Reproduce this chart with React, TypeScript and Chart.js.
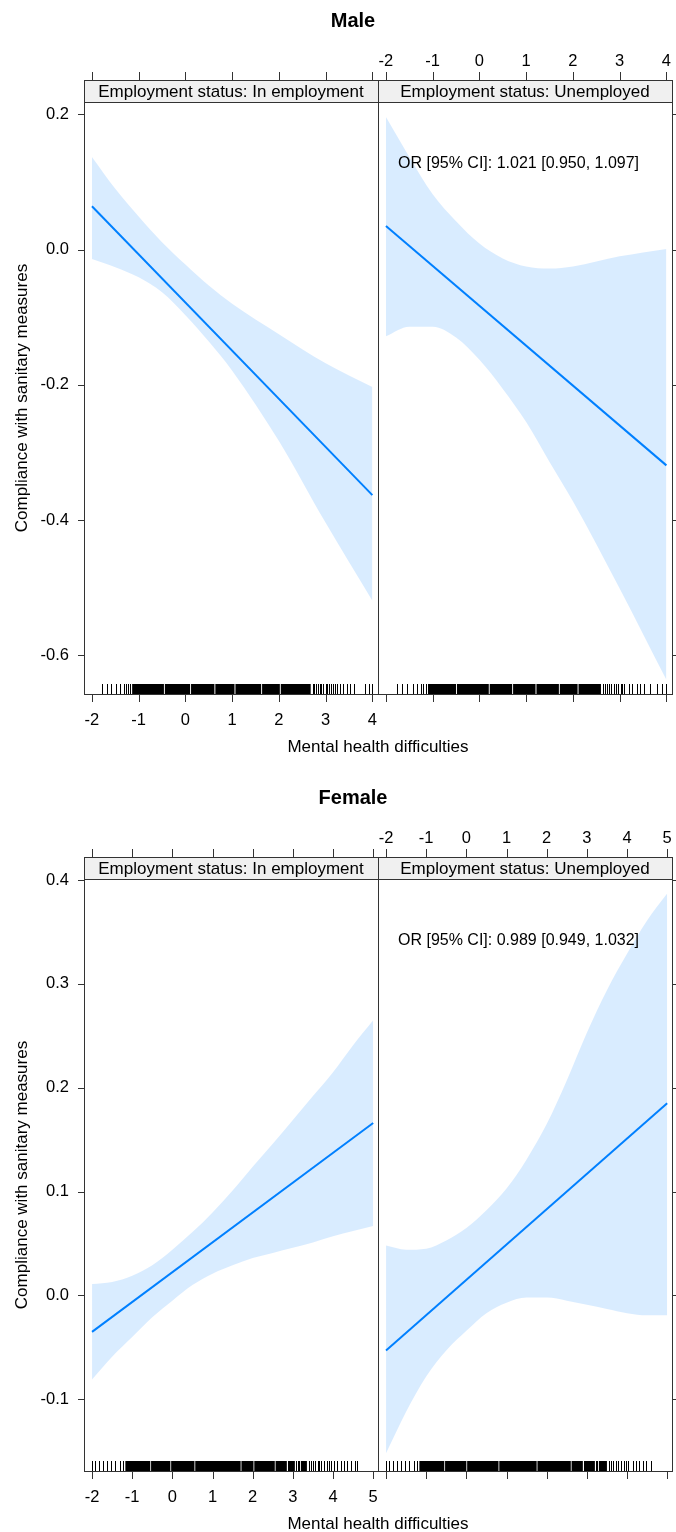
import React, { useEffect, useRef } from "react";
import { Chart, registerables } from "chart.js";

Chart.register(...registerables);

const FONT = '"Liberation Sans", Arial, Helvetica, sans-serif';

// ---------------- Data ----------------
const titles = ["Male", "Female"];
const stripLabels = ["Employment status: In employment", "Employment status: Unemployed"];
const xAxisTitle = "Mental health difficulties";
const yAxisTitle = "Compliance with sanitary measures";
const maleAnnotation = "OR [95% CI]: 1.021 [0.950, 1.097]";
const femaleAnnotation = "OR [95% CI]: 0.989 [0.949, 1.032]";

const maleXTicks = [-2, -1, 0, 1, 2, 3, 4];
const maleYTicks = [-0.6, -0.4, -0.2, 0.0, 0.2];
const maleYLabels = ["-0.6", "-0.4", "-0.2", "0.0", "0.2"];
const femaleXTicks = [-2, -1, 0, 1, 2, 3, 4, 5];
const femaleYTicks = [-0.1, 0.0, 0.1, 0.2, 0.3, 0.4];
const femaleYLabels = ["-0.1", "0.0", "0.1", "0.2", "0.3", "0.4"];

// Male, in employment
const maleEmpX = [-2, -1.5, -1, -0.5, 0, 0.5, 1, 2, 3, 4];
const maleEmpUpper = [0.137, 0.09, 0.049, 0.011, -0.022, -0.053, -0.08, -0.125, -0.168, -0.203];
const maleEmpLower = [-0.014, -0.026, -0.041, -0.063, -0.097, -0.136, -0.179, -0.283, -0.404, -0.519];
const maleFitX = [-2, 4];
const maleEmpFit = [0.064, -0.363];

// Male, unemployed
const maleUnempX = [-2, -1.5, -1, -0.5, 0, 0.5, 1, 1.5, 2, 3, 4];
const maleUnempUpper = [0.196, 0.137, 0.082, 0.042, 0.009, -0.013, -0.025, -0.028, -0.025, -0.01, 0.001];
const maleUnempLower = [-0.128, -0.114, -0.114, -0.13, -0.163, -0.206, -0.255, -0.314, -0.372, -0.501, -0.636];
const maleUnempFit = [0.035, -0.319];

// Female
const femaleX = [-2, -1.5, -1, -0.5, 0, 0.5, 1, 1.5, 2, 2.5, 3, 3.5, 4, 4.5, 5];
const femaleFitX = [-2, 5];
const femaleEmpUpper = [0.011, 0.013, 0.019, 0.029, 0.044, 0.061, 0.08, 0.101, 0.124, 0.146, 0.169, 0.192, 0.215, 0.241, 0.265];
const femaleEmpLower = [-0.081, -0.059, -0.04, -0.021, -0.005, 0.01, 0.021, 0.029, 0.036, 0.041, 0.046, 0.051, 0.057, 0.062, 0.067];
const femaleEmpFit = [-0.035, 0.166];
const femaleUnempUpper = [0.048, 0.044, 0.045, 0.053, 0.065, 0.082, 0.103, 0.131, 0.165, 0.207, 0.253, 0.294, 0.329, 0.361, 0.387];
const femaleUnempLower = [-0.152, -0.112, -0.078, -0.053, -0.034, -0.017, -0.007, -0.002, -0.002, -0.005, -0.009, -0.013, -0.017, -0.019, -0.019];
const femaleUnempFit = [-0.053, 0.185];

// Rugs (observed x values): single ticks and dense runs
const maleEmpRugTicks = [-1.79, -1.68, -1.59, -1.48, -1.39, -1.32, -1.27, -1.23, -1.19,
  2.72, 2.76, 2.8, 2.83, 2.87, 2.9, 2.95, 3.0, 3.03, 3.07, 3.12, 3.16, 3.2, 3.24,
  3.3, 3.37, 3.46, 3.53, 3.6, 3.85, 3.93, 4.0];
const maleEmpRugRuns = [[-1.14, -0.46], [-0.44, 0.1], [0.12, 0.62], [0.64, 1.05], [1.07, 1.62], [1.64, 2.02], [2.04, 2.68]];
const maleUnempRugTicks = [-1.76, -1.65, -1.54, -1.43, -1.33, -1.25, -1.21, -1.15,
  2.64, 2.68, 2.73, 2.78, 2.82, 2.87, 2.92, 2.97, 3.02, 3.06, 3.1,
  3.19, 3.27, 3.37, 3.44, 3.52, 3.65, 3.79, 3.9, 3.99];
const maleUnempRugRuns = [[-1.1, -0.5], [-0.48, 0.2], [0.22, 0.7], [0.72, 1.2], [1.22, 1.7], [1.72, 2.1], [2.12, 2.6]];
const femaleEmpRugTicks = [-2.0, -1.92, -1.83, -1.73, -1.63, -1.53, -1.42, -1.31, -1.23,
  2.87, 3.08, 3.12, 3.16, 3.4, 3.45, 3.5, 3.56, 3.62, 3.66, 3.7, 3.78, 3.85, 3.9, 3.96, 4.02,
  4.1, 4.19, 4.27, 4.35, 4.45, 4.54, 4.6];
const femaleEmpRugRuns = [[-1.17, -0.55], [-0.53, -0.05], [-0.03, 0.55], [0.57, 1.7], [1.72, 2.02], [2.04, 2.55], [2.57, 2.85], [2.9, 3.05], [3.2, 3.35]];
const femaleUnempRugTicks = [-2.0, -1.92, -1.83, -1.73, -1.63, -1.53, -1.42, -1.31, -1.23,
  2.92, 3.23, 3.26, 3.55, 3.6, 3.65, 3.72, 3.78, 3.85, 3.92, 3.98, 4.03,
  4.15, 4.23, 4.31, 4.4, 4.48, 4.59];
const femaleUnempRugRuns = [[-1.17, -0.55], [-0.53, 0.0], [0.02, 0.8], [0.82, 1.75], [1.77, 2.6], [2.62, 2.9], [2.95, 3.2], [3.3, 3.5]];

// ---------------- Layout ----------------
const W = 676;
const STRIP_TOP = 80;
const PLOT_TOP = 102;
const PLOT_BOTTOM = 694;
const LEFT = 84;
const MID = 378;
const RIGHT = 672;

type Panel = {
  xs: number[]; upper: number[]; lower: number[]; fitX: number[]; fit: number[];
  xMin: number; xMax: number; yMin: number; yMax: number;
  xTicks: number[]; yTicks: number[]; yLabels: string[];
  side: "left" | "right"; strip: string; annotation?: string;
  rugTicks: number[]; rugRuns: number[][];
  title?: string;
};

function drawPanel(chart: any, p: Panel) {
  const ctx = chart.ctx as CanvasRenderingContext2D;
  const { left, right, top, bottom } = chart.chartArea;
  const xs = chart.scales.x, ys = chart.scales.y;
  ctx.save();

  // rug
  ctx.fillStyle = "#000";
  for (const [a, b] of p.rugRuns) {
    const x0 = xs.getPixelForValue(a), x1 = xs.getPixelForValue(b);
    ctx.fillRect(x0, bottom - 10, x1 - x0, 10);
  }
  for (const v of p.rugTicks) {
    const x = Math.round(xs.getPixelForValue(v));
    ctx.fillRect(x, bottom - 10, 1, 10);
  }

  // strip
  ctx.fillStyle = "#f0f0f0";
  ctx.fillRect(left + 0.5, STRIP_TOP + 0.5, right - left, top - STRIP_TOP);
  ctx.strokeStyle = "#333";
  ctx.lineWidth = 1;
  ctx.strokeRect(left + 0.5, STRIP_TOP + 0.5, right - left, bottom - STRIP_TOP);
  ctx.beginPath();
  ctx.moveTo(left, top + 0.5);
  ctx.lineTo(right + 1, top + 0.5);
  ctx.stroke();
  ctx.fillStyle = "#000";
  ctx.font = `17px ${FONT}`;
  ctx.textAlign = "center";
  ctx.textBaseline = "middle";
  ctx.fillText(p.strip, (left + right) / 2, (STRIP_TOP + top) / 2 + 1);

  // x ticks
  ctx.beginPath();
  for (const v of p.xTicks) {
    const x = Math.round(xs.getPixelForValue(v)) + 0.5;
    ctx.moveTo(x, STRIP_TOP - 8); ctx.lineTo(x, STRIP_TOP);
    ctx.moveTo(x, bottom); ctx.lineTo(x, bottom + 8);
  }
  // y ticks
  for (const v of p.yTicks) {
    const y = Math.round(ys.getPixelForValue(v)) + 0.5;
    if (p.side === "left") { ctx.moveTo(left - 6, y); ctx.lineTo(left, y); }
    else { ctx.moveTo(right + 1, y); ctx.lineTo(right + 7, y); }
  }
  ctx.stroke();

  ctx.font = `16.5px ${FONT}`;
  ctx.fillStyle = "#000";
  ctx.textAlign = "center";
  ctx.textBaseline = "middle";
  p.xTicks.forEach((v) => {
    const x = xs.getPixelForValue(v);
    if (p.side === "left") ctx.fillText(String(v), x, 720);
    else ctx.fillText(String(v), x, 61);
  });
  if (p.side === "left") {
    ctx.textAlign = "right";
    p.yTicks.forEach((v, i) => {
      ctx.fillText(p.yLabels[i], left - 15, ys.getPixelForValue(v));
    });
  }

  if (p.annotation) {
    ctx.font = `16px ${FONT}`;
    ctx.textAlign = "left";
    ctx.fillText(p.annotation, 398, 164);
  }

  if (p.title) {
    ctx.font = `bold 20px ${FONT}`;
    ctx.textAlign = "center";
    ctx.fillText(p.title, 353, 21);
    ctx.font = `17px ${FONT}`;
    ctx.fillText(xAxisTitle, (LEFT + RIGHT) / 2, 747);
    ctx.save();
    ctx.translate(22, (PLOT_TOP + PLOT_BOTTOM) / 2);
    ctx.rotate(-Math.PI / 2);
    ctx.fillText(yAxisTitle, 0, 0);
    ctx.restore();
  }
  ctx.restore();
}

function makeChart(canvas: HTMLCanvasElement, p: Panel, height: number) {
  const pts = (xs: number[], ys: number[]) => xs.map((x, i) => ({ x, y: ys[i] }));
  const padLeft = p.side === "left" ? LEFT : MID;
  const padRight = p.side === "left" ? W - MID : W - RIGHT;
  return new Chart(canvas, {
    type: "line",
    data: {
      datasets: [
        {
          data: pts(p.xs, p.upper),
          borderWidth: 0,
          pointRadius: 0,
          backgroundColor: "rgba(0,128,255,0.15)",
          fill: "+1",
          cubicInterpolationMode: "monotone",
        },
        {
          data: pts(p.xs, p.lower),
          borderWidth: 0,
          pointRadius: 0,
          fill: false,
          cubicInterpolationMode: "monotone",
        },
        {
          data: pts(p.fitX, p.fit),
          borderColor: "#0080ff",
          borderWidth: 2,
          pointRadius: 0,
          fill: false,
        },
      ],
    } as any,
    options: {
      animation: false,
      responsive: false,
      devicePixelRatio: 1,
      events: [],
      layout: { padding: { left: padLeft, right: padRight, top: PLOT_TOP, bottom: height - PLOT_BOTTOM } },
      scales: {
        x: { type: "linear", min: p.xMin, max: p.xMax, display: false },
        y: { type: "linear", min: p.yMin, max: p.yMax, display: false },
      },
      plugins: { legend: { display: false }, tooltip: { enabled: false }, title: { display: false } },
    } as any,
    plugins: [{ id: "decor", afterDraw: (chart: any) => drawPanel(chart, p) }],
  });
}

const MALE_H = 777;
const FEMALE_H = 755;

const maleRange = { xMin: -2.17, xMax: 4.12, yMin: -0.657, yMax: 0.2182 };
const femaleRange = { xMin: -2.2, xMax: 5.12, yMin: -0.169, yMax: 0.401 };

const panels: { p: Panel; top: number; h: number }[] = [
  { top: 0, h: MALE_H, p: { ...maleRange, xs: maleEmpX, upper: maleEmpUpper, lower: maleEmpLower, fitX: maleFitX, fit: maleEmpFit, xTicks: maleXTicks, yTicks: maleYTicks, yLabels: maleYLabels, side: "left", strip: stripLabels[0], rugTicks: maleEmpRugTicks, rugRuns: maleEmpRugRuns, title: titles[0] } },
  { top: 0, h: MALE_H, p: { ...maleRange, xs: maleUnempX, upper: maleUnempUpper, lower: maleUnempLower, fitX: maleFitX, fit: maleUnempFit, xTicks: maleXTicks, yTicks: maleYTicks, yLabels: maleYLabels, side: "right", strip: stripLabels[1], annotation: maleAnnotation, rugTicks: maleUnempRugTicks, rugRuns: maleUnempRugRuns } },
  { top: 777, h: FEMALE_H, p: { ...femaleRange, xs: femaleX, upper: femaleEmpUpper, lower: femaleEmpLower, fitX: femaleFitX, fit: femaleEmpFit, xTicks: femaleXTicks, yTicks: femaleYTicks, yLabels: femaleYLabels, side: "left", strip: stripLabels[0], rugTicks: femaleEmpRugTicks, rugRuns: femaleEmpRugRuns, title: titles[1] } },
  { top: 777, h: FEMALE_H, p: { ...femaleRange, xs: femaleX, upper: femaleUnempUpper, lower: femaleUnempLower, fitX: femaleFitX, fit: femaleUnempFit, xTicks: femaleXTicks, yTicks: femaleYTicks, yLabels: femaleYLabels, side: "right", strip: stripLabels[1], annotation: femaleAnnotation, rugTicks: femaleUnempRugTicks, rugRuns: femaleUnempRugRuns } },
];

export default function App() {
  const refs = useRef<(HTMLCanvasElement | null)[]>([]);
  useEffect(() => {
    document.body.style.margin = "0";
    const charts = panels.map((pp, i) => makeChart(refs.current[i]!, pp.p, pp.h));
    return () => charts.forEach((c) => c.destroy());
  }, []);
  return (
    <div style={{ position: "relative", width: W, height: 1532, background: "#fff", overflow: "hidden" }}>
      {panels.map((pp, i) => (
        <canvas
          key={i}
          ref={(el) => { refs.current[i] = el; }}
          width={W}
          height={pp.h}
          style={{ position: "absolute", left: 0, top: pp.top, width: W, height: pp.h, display: "block" }}
        />
      ))}
    </div>
  );
}
